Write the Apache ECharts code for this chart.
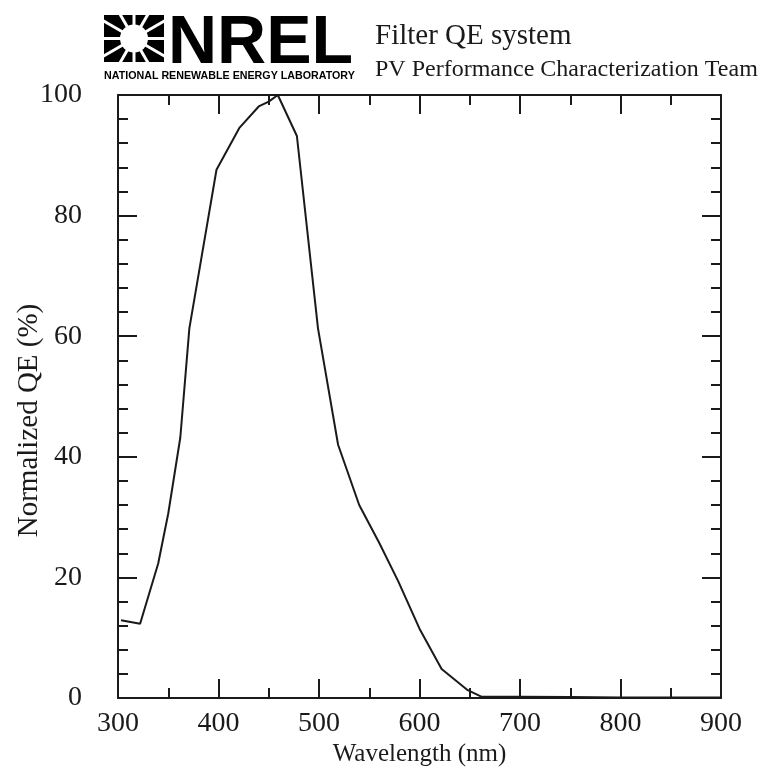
<!DOCTYPE html>
<html>
<head>
<meta charset="utf-8">
<script src="https://cdn.jsdelivr.net/npm/echarts@6/dist/echarts.min.js"></script>
<style>
  html, body {margin: 0; padding: 0; background: #fff;}
  #myChart {width: 767px; height: 778px;}
</style>
</head>
<body>
<div id="myChart"></div>
<script>
// wavelength (nm) and normalized QE (%)
let wavelength = [303, 322, 340, 350, 362, 371, 398, 421, 440, 450, 459, 478, 499, 519, 540, 560, 579, 600, 622, 648, 662, 700, 750, 800, 850, 900];
let qe = [12.9, 12.3, 22.3, 30.6, 43.2, 61.3, 87.6, 94.6, 98.1, 98.9, 100, 93.2, 61.3, 42.0, 32.0, 25.7, 19.3, 11.5, 4.8, 1.3, 0.2, 0.2, 0.15, 0.1, 0.1, 0.1];

let xTitle = 'Wavelength (nm)';
let yTitle = 'Normalized QE (%)';
let title = 'Filter QE system';
let subtitle = 'PV Performance Characterization Team';

let serif = 'Liberation Serif';
let ink = '#1a1a1a';

let myChart = echarts.init(document.getElementById('myChart'));

// 轴样式 (ticks inside, mirrored on top/right)
let axisCommon = (show, minorSplit) => ({
    axisLine: {show: true, onZero: false, lineStyle: {color: ink, width: 2}},
    axisTick: {show: true, inside: true, length: 19, lineStyle: {color: ink, width: 2}},
    minorTick: {show: true, splitNumber: minorSplit, length: 10, lineStyle: {color: ink, width: 2}},
    splitLine: {show: false},
    axisLabel: {show: show, fontFamily: serif, fontSize: 28, color: ink, showMinLabel: true, showMaxLabel: true}
});

// NREL logo mark
let logo = [
    {type: 'rect', shape: {x: 104, y: 15, width: 60, height: 47}, style: {fill: '#000'}},
    {type: 'circle', shape: {cx: 134, cy: 38.5, r: 14}, style: {fill: '#fff'}}
];
[0, 30, 60, 90, 120, 150].forEach(a => {
    let r = a * Math.PI / 180;
    logo.push({
        type: 'line',
        shape: {x1: 134 - 40 * Math.cos(r), y1: 38.5 - 40 * Math.sin(r), x2: 134 + 40 * Math.cos(r), y2: 38.5 + 40 * Math.sin(r)},
        style: {stroke: '#fff', lineWidth: 3}
    });
});
logo.push({type: 'rect', shape: {x: 104, y: 62, width: 62, height: 10}, style: {fill: '#fff'}});
logo.push({type: 'rect', shape: {x: 164, y: 10, width: 4, height: 60}, style: {fill: '#fff'}});

let xBottom = axisCommon(true, 2);
let yLeft = axisCommon(true, 5);

let option = {
    backgroundColor: '#fff',
    animation: false,
    grid: {left: 118, top: 95, right: 46, bottom: 80, containLabel: false, outerBoundsMode: 'none'},
    xAxis: [
        {
            type: 'value', min: 300, max: 900, interval: 100, position: 'bottom',
            name: xTitle, nameLocation: 'middle', nameGap: 44, nameMoveOverlap: false,
            nameTextStyle: {fontFamily: serif, fontSize: 25, color: ink},
            ...xBottom,
            axisLabel: {...xBottom.axisLabel, margin: 12}
        },
        {type: 'value', min: 300, max: 900, interval: 100, position: 'top', ...axisCommon(false, 2)}
    ],
    yAxis: [
        {
            type: 'value', min: 0, max: 100, interval: 20, position: 'left',
            name: yTitle, nameLocation: 'middle', nameGap: 74, nameRotate: 90, nameMoveOverlap: false,
            nameTextStyle: {fontFamily: serif, fontSize: 29, color: ink, padding: [0, 48, 0, 0]},
            ...yLeft,
            axisLabel: {...yLeft.axisLabel, margin: 36}
        },
        {type: 'value', min: 0, max: 100, interval: 20, position: 'right', ...axisCommon(false, 5)}
    ],
    graphic: [
        ...logo,
        {type: 'text', x: 168, y: 10, style: {text: 'NREL', font: 'bold 68px "Liberation Sans"', fill: '#000'}},
        {type: 'text', x: 104, y: 71, style: {text: 'NATIONAL RENEWABLE ENERGY LABORATORY', font: 'bold 10.7px "Liberation Sans"', fill: '#000'}},
        {type: 'text', x: 375, y: 22, style: {text: title, font: '29px "Liberation Serif"', fill: ink}},
        {type: 'text', x: 375, y: 58, style: {text: subtitle, font: '24px "Liberation Serif"', fill: ink}}
    ],
    series: [{
        type: 'line',
        xAxisIndex: 0,
        yAxisIndex: 0,
        data: wavelength.map((w, i) => [w, qe[i]]),
        symbol: 'none',
        smooth: false,
        lineStyle: {color: ink, width: 2},
        clip: false
    }]
};

myChart.setOption(option);
</script>
</body>
</html>
